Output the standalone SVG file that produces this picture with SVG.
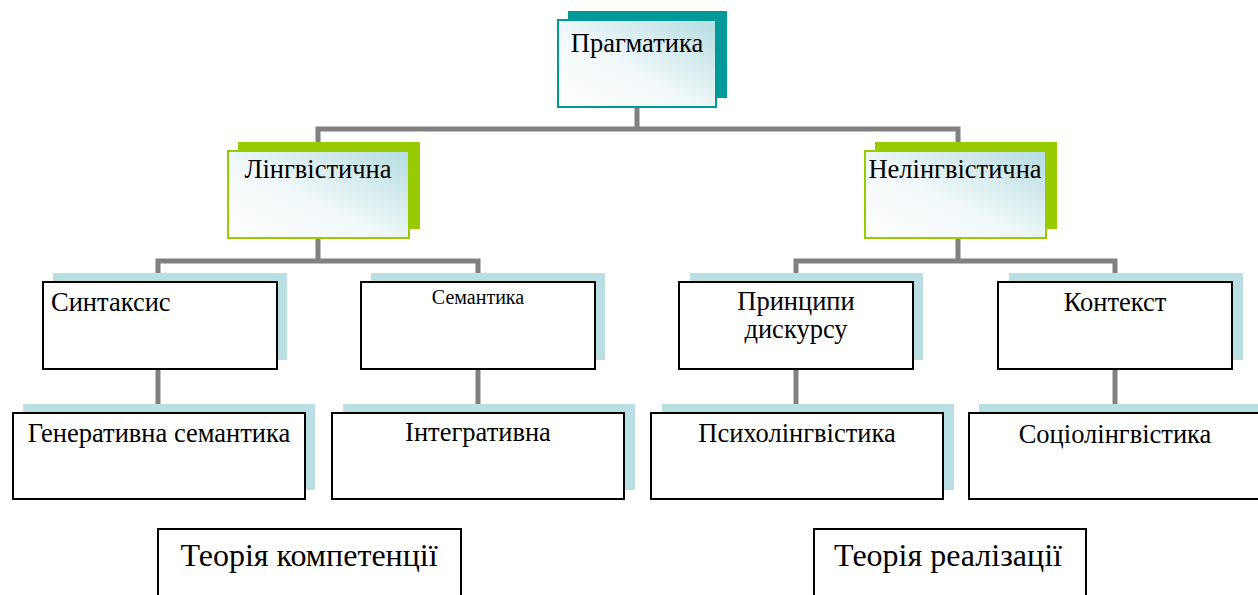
<svg xmlns="http://www.w3.org/2000/svg" width="1258" height="595" viewBox="0 0 1258 595">
<defs>
<linearGradient id="grad" x1="0" y1="1" x2="1" y2="0">
<stop offset="0" stop-color="#ffffff"/>
<stop offset="0.45" stop-color="#f1f8f9"/>
<stop offset="1" stop-color="#b5dce1"/>
</linearGradient>
<style>
.conn{fill:none;stroke:#808080;stroke-width:5}
.shT{fill:#009999}
.shG{fill:#99cc00}
.shB{fill:#b9dfe3}
.bT{fill:url(#grad);stroke:#009999;stroke-width:2}
.bG{fill:url(#grad);stroke:#99cc00;stroke-width:2}
.bK{fill:#ffffff;stroke:#000000;stroke-width:2}
text{font-family:"Liberation Serif","Times New Roman",serif;fill:#000;font-size:26.5px}
.sm{font-size:20px}
.lg{font-size:32px}
</style>
</defs>
<rect width="1258" height="595" fill="#ffffff"/>
<g id="connectors">
<path class="conn" d="M637,107 V129 M318,150 V129 H958 V150"/>
<path class="conn" d="M318,238 V261 M158,281 V261 H478 V281"/>
<path class="conn" d="M958,238 V261 M796,281 V261 H1115 V281"/>
<path class="conn" d="M158,369 V412"/>
<path class="conn" d="M478,369 V412"/>
<path class="conn" d="M796,369 V412"/>
<path class="conn" d="M1115,369 V412"/>
</g>
<g id="pragmatyka">
<rect class="shT" x="568" y="11" width="159" height="87"/>
<rect class="bT" x="558" y="20" width="158" height="87"/>
<text x="637" y="52" text-anchor="middle">Прагматика</text>
</g>
<g id="lingvistychna">
<rect class="shG" x="238" y="142" width="182" height="87"/>
<rect class="bG" x="228" y="151" width="181" height="87"/>
<text x="318" y="178" text-anchor="middle">Лінгвістична</text>
</g>
<g id="nelingvistychna">
<rect class="shG" x="875" y="142" width="182" height="87"/>
<rect class="bG" x="865" y="151" width="181" height="87"/>
<text x="955" y="178" text-anchor="middle">Нелінгвістична</text>
</g>
<g id="syntaksys">
<rect class="shB" x="53" y="273" width="234" height="87"/>
<rect class="bK" x="43" y="282" width="234" height="87"/>
<text x="51" y="311">Синтаксис</text>
</g>
<g id="semantyka">
<rect class="shB" x="371" y="273" width="234" height="87"/>
<rect class="bK" x="361" y="282" width="234" height="87"/>
<text class="sm" x="478" y="304" text-anchor="middle">Семантика</text>
</g>
<g id="pryntsypy">
<rect class="shB" x="690" y="273" width="233" height="87"/>
<rect class="bK" x="679" y="282" width="234" height="87"/>
<text x="796" y="310" text-anchor="middle">Принципи</text>
<text x="796" y="338" text-anchor="middle">дискурсу</text>
</g>
<g id="kontekst">
<rect class="shB" x="1009" y="273" width="234" height="87"/>
<rect class="bK" x="998" y="282" width="234" height="87"/>
<text x="1115" y="311" text-anchor="middle">Контекст</text>
</g>
<g id="generatyvna">
<rect class="shB" x="23" y="404" width="292" height="86"/>
<rect class="bK" x="13" y="413" width="292" height="86"/>
<text x="159" y="442" text-anchor="middle">Генеративна семантика</text>
</g>
<g id="integratyvna">
<rect class="shB" x="343" y="404" width="292" height="86"/>
<rect class="bK" x="332" y="413" width="292" height="86"/>
<text x="478" y="441" text-anchor="middle">Інтегративна</text>
</g>
<g id="psykholingvistyka">
<rect class="shB" x="662" y="404" width="292" height="86"/>
<rect class="bK" x="651" y="413" width="292" height="86"/>
<text x="797" y="442" text-anchor="middle">Психолінгвістика</text>
</g>
<g id="sotsiolingvistyka">
<rect class="shB" x="979" y="404" width="292" height="86"/>
<rect class="bK" x="969" y="413" width="292" height="86"/>
<text x="1115" y="443" text-anchor="middle">Соціолінгвістика</text>
</g>
<g id="teoriya-kompetentsii">
<rect class="bK" x="158" y="529" width="303" height="80"/>
<text class="lg" x="309" y="566" text-anchor="middle">Теорія компетенції</text>
</g>
<g id="teoriya-realizatsii">
<rect class="bK" x="814" y="529" width="272" height="80"/>
<text class="lg" x="948" y="566" text-anchor="middle">Теорія реалізації</text>
</g>
</svg>
